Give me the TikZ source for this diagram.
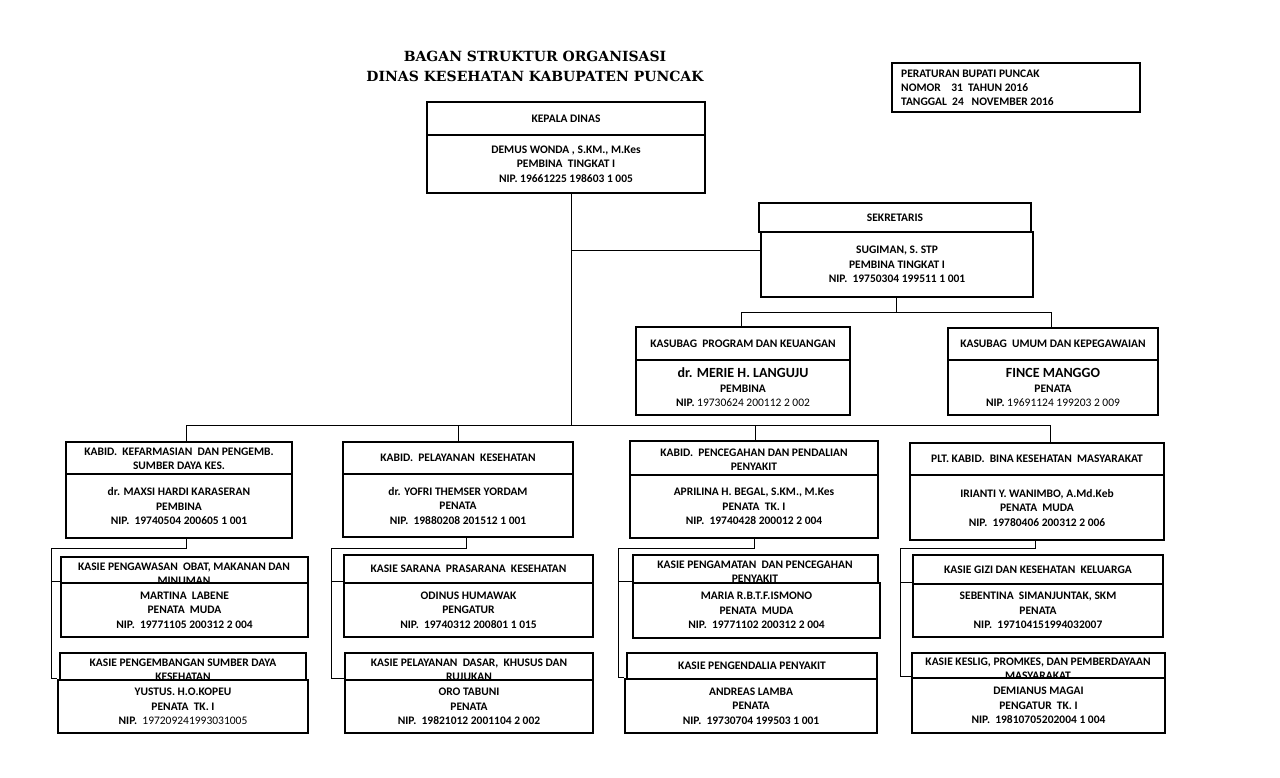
\documentclass[tikz,border=0pt]{standalone}
\usepackage{fontspec}
\setmainfont{Carlito}
\newfontfamily\titlefont{DejaVu Serif}
\newcommand\obox[7][]{\node[boxst,#1,minimum width={(#5-#3)*1pt},minimum height={(#6-#4)*1pt}] (#2) at ({(#3+#5)/2},{(#4+#6)/2}) {#7};}
\begin{document}
\begin{tikzpicture}[x=1pt,y=-1pt,
  boxst/.style={draw,line width=1.8pt,inner sep=0pt,align=center,font=\fontsize{11.5}{14.5}\selectfont\bfseries},
  thick box/.style={line width=2.5pt},
  txt/.style={inner sep=0pt,align=center,font=\fontsize{11.5}{14}\selectfont\bfseries},
  ttl/.style={inner sep=0pt,font=\fontsize{14}{16}\selectfont\titlefont\bfseries},
  conn/.style={line width=1pt}]
\useasboundingbox (0,0) rectangle (1280,777);
\fill[white] (0,0) rectangle (1280,777);
% title
\node[ttl] (t1) at (535,56) {BAGAN STRUKTUR ORGANISASI};
\node[ttl] (t2) at (535,76) {DINAS KESEHATAN KABUPATEN PUNCAK};
% regulation box
\obox{per}{892}{63}{1140}{112}{}
\node[txt,anchor=west,align=left,font=\fontsize{11.5}{14}\selectfont\bfseries] (pert) at (901,88) {PERATURAN BUPATI PUNCAK\\NOMOR~~~~31~~TAHUN 2016\\TANGGAL~~24~~~NOVEMBER 2016};
% two-line header texts (drawn first, dividers overlap them)
\node[txt] (b1t) at (179,459) {KABID.~ KEFARMASIAN~ DAN PENGEMB.\\SUMBER DAYA KES.};
\node[txt] (b3t) at (754,459.5) {KABID.~ PENCEGAHAN DAN PENDALIAN\\PENYAKIT};
\node[txt] (s1at) at (184,573.5) {KASIE PENGAWASAN~ OBAT, MAKANAN DAN\\MINUMAN};
\node[txt] (s1bt) at (183,670) {KASIE PENGEMBANGAN SUMBER DAYA\\KESEHATAN};
\node[txt] (s2bt) at (469,669.5) {KASIE PELAYANAN~ DASAR,~ KHUSUS DAN\\RUJUKAN};
\node[txt] (s3at) at (755,571.5) {KASIE PENGAMATAN~ DAN PENCEGAHAN\\PENYAKIT};
\node[txt] (s4bt) at (1038,668.5) {KASIE KESLIG, PROMKES, DAN PEMBERDAYAAN\\MASYARAKAT};
% kepala dinas
\obox{kdh}{427}{102}{705}{135}{KEPALA DINAS}
\obox{kdb}{427}{135}{705}{193}{DEMUS WONDA , S.KM., M.Kes\\PEMBINA~ TINGKAT I\\NIP. 19661225 198603 1 005}
% sekretaris
\obox{skh}{759}{203}{1031}{232}{SEKRETARIS}
\obox{skb}{761}{232}{1033}{297}{SUGIMAN, S. STP\\PEMBINA TINGKAT I\\NIP.~ 19750304 199511 1 001}
% kasubag
\obox{k1h}{636}{327}{850}{360}{KASUBAG~ PROGRAM DAN KEUANGAN}
\obox{k1b}{636}{360}{850}{415}{{\fontsize{14}{15}\selectfont dr. MERIE H. LANGUJU}\\PEMBINA\\NIP. {\mdseries 19730624 200112 2 002}}
\obox{k2h}{948}{328}{1158}{360}{KASUBAG~ UMUM DAN KEPEGAWAIAN}
\obox{k2b}{948}{360}{1158}{415}{{\fontsize{14}{15}\selectfont FINCE MANGGO}\\PENATA\\NIP. {\mdseries 19691124 199203 2 009}}
% kabid
\obox{b1h}{66}{442}{292}{474}{}
\obox{b1b}{66}{474}{292}{538}{dr. MAXSI HARDI KARASERAN\\PEMBINA\\NIP.~ 19740504 200605 1 001}
\obox{b2h}{343}{442}{573}{474}{KABID.~ PELAYANAN~ KESEHATAN}
\obox{b2b}{343}{474}{573}{537}{dr. YOFRI THEMSER YORDAM\\PENATA\\NIP.~ 19880208 201512 1 001}
\obox{b3h}{630}{441}{878}{475}{}
\obox{b3b}{630}{475}{878}{538}{APRILINA H. BEGAL, S.KM., M.Kes\\PENATA~ TK. I\\NIP.~ 19740428 200012 2 004}
\obox{b4h}{910}{443}{1164}{475}{PLT. KABID.~ BINA KESEHATAN~ MASYARAKAT}
\obox{b4b}{910}{475}{1164}{540}{IRIANTI Y. WANIMBO, A.Md.Keb\\PENATA~ MUDA\\NIP.~ 19780406 200312 2 006}
% kasie column 1
\obox{s1ah}{61}{557}{308}{583}{}
\obox[thick box]{s1ab}{61}{583}{308}{637}{MARTINA~ LABENE\\PENATA~ MUDA\\NIP.~ 19771105 200312 2 004}
\obox{s1bh}{60}{653}{306}{680}{}
\obox[thick box]{s1bb}{58}{680}{308}{733}{YUSTUS. H.O.KOPEU\\PENATA~ TK. I\\NIP.~ {\mdseries 197209241993031005}}
% kasie column 2
\obox{s2ah}{344}{555}{593}{583}{KASIE SARANA~ PRASARANA~ KESEHATAN}
\obox[thick box]{s2ab}{344}{583}{593}{637}{ODINUS HUMAWAK\\PENGATUR\\NIP.~ 19740312 200801 1 015}
\obox{s2bh}{345}{653}{593}{680}{}
\obox[thick box]{s2bb}{345}{680}{593}{733}{ORO TABUNI\\PENATA\\NIP.~ 19821012 2001104 2 002}
% kasie column 3
\obox{s3ah}{633}{555}{878}{583}{}
\obox[thick box]{s3ab}{633}{583}{880}{638}{MARIA R.B.T.F.ISMONO\\PENATA~ MUDA\\NIP.~ 19771102 200312 2 004}
\obox{s3bh}{627}{653}{877}{679}{KASIE PENGENDALIA PENYAKIT}
\obox[thick box]{s3bb}{625}{679}{877}{733}{ANDREAS LAMBA\\PENATA\\NIP.~ 19730704 199503 1 001}
% kasie column 4
\obox{s4ah}{913}{555}{1163}{584}{KASIE GIZI DAN KESEHATAN~ KELUARGA}
\obox[thick box]{s4ab}{913}{584}{1163}{637}{SEBENTINA~ SIMANJUNTAK, SKM\\PENATA\\NIP.~ 197104151994032007}
\obox{s4bh}{912}{653}{1165}{678}{}
\obox[thick box]{s4bb}{912}{678}{1165}{733}{DEMIANUS MAGAI\\PENGATUR~ TK. I\\NIP.~ 19810705202004 1 004}
% connectors: top level
\coordinate (kdv) at (571,193);
\coordinate (bus) at (571,425);
\coordinate (j1) at (571,250);
\draw[conn] (kdv) -- (bus);
\draw[conn] (j1) -- (j1 -| skb.west);
\coordinate (skv) at (896,297);
\coordinate (sj) at (896,312);
\coordinate (k1v) at (741,312);
\coordinate (k2v) at (1051,312);
\draw[conn] (skv) -- (sj);
\draw[conn] (k1v) -- (k2v);
\draw[conn] (k1v) -- (k1v |- k1h.north);
\draw[conn] (k2v) -- (k2v |- k2h.north);
\coordinate (d1) at (186,425);
\coordinate (d2) at (458,425);
\coordinate (d3) at (755,425);
\coordinate (d4) at (1050,425);
\draw[conn] (d1) -- (d4);
\draw[conn] (d1) -- (d1 |- b1h.north);
\draw[conn] (d2) -- (d2 |- b2h.north);
\draw[conn] (d3) -- (d3 |- b3h.north);
\draw[conn] (d4) -- (d4 |- b4h.north);
% connectors: kabid to kasie
\coordinate (c1) at (186,548);
\coordinate (c1l) at (51,548);
\draw[conn] (c1 |- b1b.south) -- (c1) -- (c1l) -- (c1l |- s1bb.north);
\draw[conn] (c1l |- s1ab.north) -- (s1ab.north west);
\draw[conn] (c1l |- s1bb.north) -- (s1bb.north west);
\coordinate (c2) at (466,548);
\coordinate (c2l) at (331,548);
\draw[conn] (c2 |- b2b.south) -- (c2) -- (c2l) -- (c2l |- s2bb.north);
\draw[conn] (c2l |- s2ab.north) -- (s2ab.north west);
\draw[conn] (c2l |- s2bb.north) -- (s2bb.north west);
\coordinate (c3) at (754,548);
\coordinate (c3l) at (618,548);
\draw[conn] (c3 |- b3b.south) -- (c3) -- (c3l) -- (c3l |- s3bb.north);
\draw[conn] (c3l |- s3ab.north) -- (s3ab.north west);
\draw[conn] (c3l |- s3bb.north) -- (s3bb.north west);
\coordinate (c4) at (1035,548);
\coordinate (c4l) at (900,548);
\draw[conn] (c4 |- b4b.south) -- (c4) -- (c4l) -- (c4l |- s4bb.north);
\draw[conn] (c4l |- s4ab.north) -- (s4ab.north west);
\draw[conn] (c4l |- s4bb.north) -- (s4bb.north west);
\end{tikzpicture}
\end{document}
